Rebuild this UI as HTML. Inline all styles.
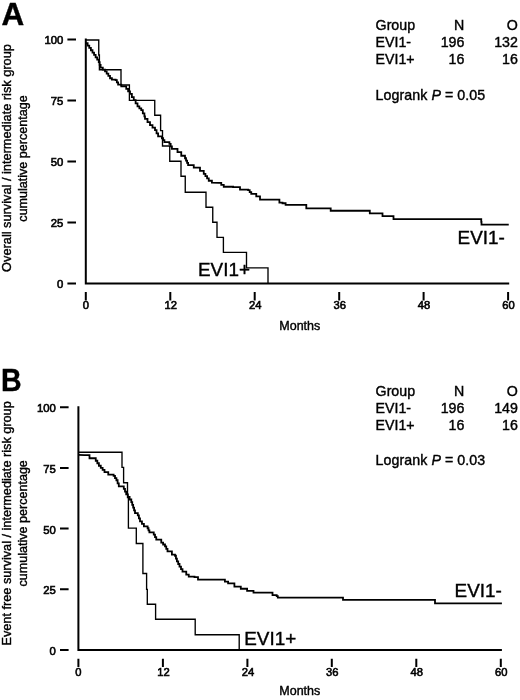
<!DOCTYPE html>
<html><head><meta charset="utf-8">
<style>
html,body{margin:0;padding:0;background:#fff;}
body{width:520px;height:700px;overflow:hidden;font-family:"Liberation Sans",sans-serif;}
svg{display:block;}
text{font-family:"Liberation Sans",sans-serif;fill:#000;stroke:#000;stroke-width:0.4;}
.sm text{stroke-width:0.6;}
.ax{stroke:#000;stroke-width:2;fill:none;}
.tk{stroke:#000;stroke-width:2;fill:none;}
.xt{stroke:#000;stroke-width:2;fill:none;}
.thin{stroke:#000;stroke-width:1.35;fill:none;}
.thick{stroke:#000;stroke-width:1.8;fill:none;stroke-linejoin:miter;}
</style></head><body>
<svg width="520" height="700" viewBox="0 0 520 700">
<rect width="520" height="700" fill="#fff"/>
<g id="panelA">
<text x="1.6" y="24.8" font-size="31.5" font-weight="bold" textLength="22.7" lengthAdjust="spacingAndGlyphs">A</text>
<text transform="translate(11.4,158) rotate(-90)" text-anchor="middle" font-size="13.3" textLength="227.8" lengthAdjust="spacingAndGlyphs">Overall survival / intermediate risk group</text>
<text transform="translate(26.7,158.5) rotate(-90)" text-anchor="middle" font-size="13.3" textLength="126.3" lengthAdjust="spacingAndGlyphs">cumulative percentage</text>
<g font-size="11.3" text-anchor="end" class="sm">
<text x="63.3" y="44.2">100</text>
<text x="63.3" y="105.1">75</text>
<text x="63.3" y="166.1">50</text>
<text x="63.3" y="227.0">25</text>
<text x="63.3" y="288.0">0</text>
</g>
<path class="tk" d="M67.4,39.6H76.0M67.4,100.5H76.0M67.4,161.5H76.0M67.4,222.4H76.0M67.4,283.4H76.0"/>
<path class="ax" d="M85.8,38.6V283.4H509.20000000000005"/>
<g font-size="11.2" text-anchor="middle" class="sm">
<text x="85.8" y="309.4">0</text>
<text x="170.8" y="309.4">12</text>
<text x="255.2" y="309.4">24</text>
<text x="339.7" y="309.4">36</text>
<text x="424.1" y="309.4">48</text>
<text x="508.6" y="309.4">60</text>
</g>
<path class="xt" d="M85.8,292.1V300.4M170.3,292.1V300.4M254.7,292.1V300.4M339.2,292.1V300.4M423.6,292.1V300.4M508.1,292.1V300.4"/>
<text x="299.8" y="330.3" font-size="12.5" text-anchor="middle">Months</text>
<path class="thin" d="M86,40H98.75V55H99.4V69.75H121V85H129.4V100.4H154.75V115.25H160.6V130.6H162.5V146H169.75V161.25H181V176.25H185.25V192.25H206V207.25H212.75V222.2H217V237.3H223.4V252.4H246.5V267.8H268V283.3"/>
<path class="thick" d="M86.00,43.25H87.62V45.57H89.25V47.90H90.88V50.23H92.50V52.55H94.06V54.92H95.62V57.30H97.19V59.67H98.75V62.05H99.67V64.85H100.60V67.65H102.80V69.53H105.00V71.40H106.67V73.68H108.33V75.97H110.00V78.25H111.90V79.55H115.60V80.15H116.85V82.35H118.10V84.55H121.25V86.40H126.25V88.90H128.12V91.40H130.00V93.90H131.88V97.03H133.75V100.15H135.62V103.28H137.50V106.40H139.38V108.28H141.25V110.15H142.82V113.28H144.40V116.40H145.00V118.90H147.50V122.03H150.00V125.15H152.50V127.65H155.00V130.15H156.55V133.28H158.10V136.40H161.90V138.25H163.15V140.15H164.40V142.05H169.40V143.90H170.65V146.40H171.90V148.90H177.50V152.05H181.25V155.75H185.00V158.25H186.03V160.55H187.07V162.85H188.10V165.15H193.75V167.65H200.00V170.95H203.75V173.90H205.42V176.18H207.08V178.47H208.75V180.75H211.90V182.65L218.75,182.90H221.25V184.83H223.75V186.75H233.10V187.05H240.00V189.55H248.10V190.15H249.68V192.03H251.25V193.90H256.25V196.40H260.00V199.55L275.60,199.65H279.40V202.65H282.50V203.25H285.60V204.90L303.10,204.90H306.30V208.25L329.20,208.45H330.70V210.75L368.75,210.75H369.80V213.35L381.40,213.35H382.50V216.05L392.40,216.05H393.50V219.15L481.00,219.15H481.25V221.85H481.50V224.55L508.75,224.55"/>
<text font-size="18.9" x="457.6" y="244">EVI1-</text>
<text font-size="18.9" x="198" y="276.1">EVI1+</text>
<g font-size="14.2">
<text x="375.6" y="30.2">Group</text><text x="464.3" y="30.2" text-anchor="end">N</text><text x="517.8" y="30.2" text-anchor="end">O</text>
<text x="375.6" y="47.2">EVI1-</text><text x="464.3" y="47.2" text-anchor="end">196</text><text x="517.8" y="47.2" text-anchor="end">132</text>
<text x="375.6" y="64.2">EVI1+</text><text x="464.3" y="64.2" text-anchor="end">16</text><text x="517.8" y="64.2" text-anchor="end">16</text>
<text x="375.6" y="99.5" textLength="109.6" lengthAdjust="spacing">Logrank <tspan font-style="italic">P</tspan> = 0.05</text>
</g>
</g>
<g id="panelB">
<text x="0.9" y="390.8" font-size="31.5" font-weight="bold" textLength="20.6" lengthAdjust="spacingAndGlyphs">B</text>
<text transform="translate(11.4,523.4) rotate(-90)" text-anchor="middle" font-size="13.3" textLength="244.3" lengthAdjust="spacingAndGlyphs">Event free survival / intermediate risk group</text>
<text transform="translate(26.7,523.3) rotate(-90)" text-anchor="middle" font-size="13.3" textLength="126.3" lengthAdjust="spacingAndGlyphs">cumulative percentage</text>
<g font-size="11.3" text-anchor="end" class="sm">
<text x="55.8" y="412.3">100</text>
<text x="55.8" y="473.0">75</text>
<text x="55.8" y="533.7">50</text>
<text x="55.8" y="594.4">25</text>
<text x="55.8" y="655.1">0</text>
</g>
<path class="tk" d="M60.0,407.2H68.6M60.0,467.9H68.6M60.0,528.6H68.6M60.0,589.3H68.6M60.0,650.0H68.6"/>
<path class="ax" d="M78.4,406.2V650.0H501.90000000000003"/>
<g font-size="11.2" text-anchor="middle" class="sm">
<text x="78.4" y="676.0">0</text>
<text x="163.4" y="676.0">12</text>
<text x="247.9" y="676.0">24</text>
<text x="332.3" y="676.0">36</text>
<text x="416.8" y="676.0">48</text>
<text x="501.3" y="676.0">60</text>
</g>
<path class="xt" d="M78.4,658.7V667.0M162.9,658.7V667.0M247.4,658.7V667.0M331.8,658.7V667.0M416.3,658.7V667.0M500.8,658.7V667.0"/>
<text x="299.8" y="694.9" font-size="12.5" text-anchor="middle">Months</text>
<path class="thin" d="M78.5,452.2H122V467.3H123.6V482.7H127.5V497.5H128.4V528.1H136.3V543.5H142.9V573.5H146.6V589.4H147.3V604.2H155.6V619.2H195.2V634.7H239.2V650"/>
<path class="thick" d="M78.50,454.85L84.50,455.05H89.50V458.25H95.75V460.75H97.33V463.25H98.90V465.75H100.77V467.85H102.63V469.95H104.50V472.05H108.25V474.55H113.60V475.85H115.00V478.05H116.40V480.25H117.60V483.35H118.80V486.45H123.80V488.95H125.00V491.70H126.20V494.45H127.90V496.98H129.60V499.52H131.30V502.05H132.23V504.80H133.15V507.55H134.07V510.30H135.00V513.05H137.80V515.45H138.90V518.42H140.00V521.40H141.95V523.92H143.90V526.45H147.60V528.25H148.50V530.30H149.40V532.35H153.75V534.55H155.00V537.05H156.25V539.55H161.25V542.65H163.12V544.52H165.00V546.40H166.25V548.90H167.50V551.40H171.90V554.55H175.00V555.75H175.95V558.57H176.90V561.40H178.20V564.02H179.50V566.65H181.00V569.15H182.50V571.65H186.25V574.55H188.75V576.65H194.50V577.05H198.00V579.55L221.70,579.65H224.90V581.55H228.10V583.45H234.40V586.55H240.80V588.75H247.10V590.85H253.50V592.55L271.40,592.55H272.50V595.05H276.70V596.15H277.80V597.65L342.50,597.55H343.00V599.95L434.30,599.95H435.00V603.45L501.90,603.45"/>
<text font-size="18.9" x="454.6" y="596.9">EVI1-</text>
<text font-size="18.9" x="244.2" y="644.9">EVI1+</text>
<g font-size="14.2">
<text x="375.6" y="395.6">Group</text><text x="464.3" y="395.6" text-anchor="end">N</text><text x="517.8" y="395.6" text-anchor="end">O</text>
<text x="375.6" y="412.6">EVI1-</text><text x="464.3" y="412.6" text-anchor="end">196</text><text x="517.8" y="412.6" text-anchor="end">149</text>
<text x="375.6" y="429.6">EVI1+</text><text x="464.3" y="429.6" text-anchor="end">16</text><text x="517.8" y="429.6" text-anchor="end">16</text>
<text x="375.6" y="464.9" textLength="109.6" lengthAdjust="spacing">Logrank <tspan font-style="italic">P</tspan> = 0.03</text>
</g>
</g>
</svg>
</body></html>
